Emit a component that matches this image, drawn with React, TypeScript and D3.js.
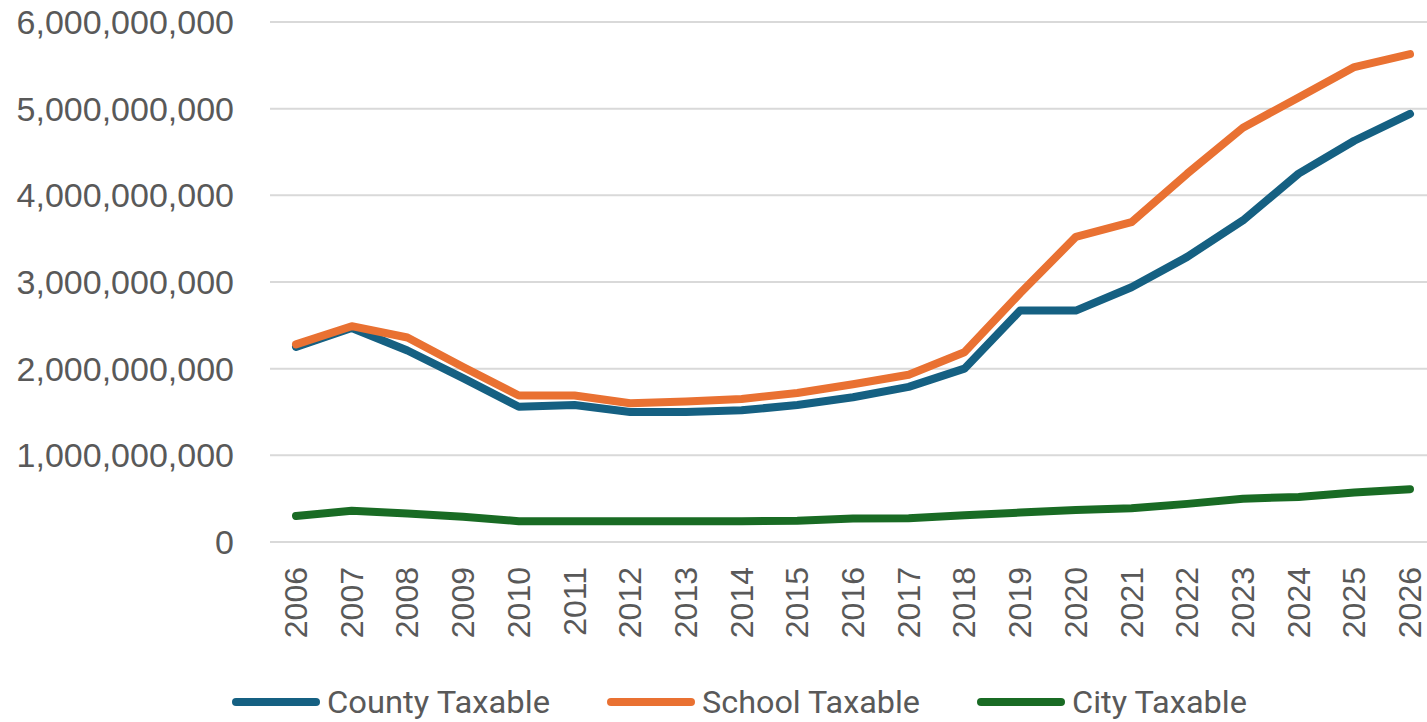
import React from "react";
import * as d3 from "d3";

const years = [
  "2006", "2007", "2008", "2009", "2010", "2011", "2012", "2013", "2014", "2015", "2016",
  "2017", "2018", "2019", "2020", "2021", "2022", "2023", "2024", "2025", "2026",
];

const countyTaxable = [
  2.25e9, 2.47e9, 2.21e9, 1.89e9, 1.56e9, 1.58e9, 1.5e9, 1.5e9, 1.52e9, 1.58e9, 1.67e9,
  1.79e9, 2.0e9, 2.67e9, 2.67e9, 2.94e9, 3.29e9, 3.71e9, 4.25e9, 4.63e9, 4.94e9,
];

const schoolTaxable = [
  2.28e9, 2.49e9, 2.36e9, 2.02e9, 1.69e9, 1.69e9, 1.6e9, 1.62e9, 1.65e9, 1.72e9, 1.82e9,
  1.93e9, 2.19e9, 2.87e9, 3.52e9, 3.69e9, 4.25e9, 4.78e9, 5.13e9, 5.48e9, 5.63e9,
];

const cityTaxable = [
  0.3e9, 0.36e9, 0.33e9, 0.29e9, 0.24e9, 0.24e9, 0.24e9, 0.24e9, 0.24e9, 0.245e9, 0.27e9,
  0.275e9, 0.31e9, 0.34e9, 0.37e9, 0.39e9, 0.44e9, 0.5e9, 0.52e9, 0.57e9, 0.61e9,
];

const yTicks = [0, 1e9, 2e9, 3e9, 4e9, 5e9, 6e9];

const seriesNames = ["County Taxable", "School Taxable", "City Taxable"];
const seriesColors = ["#156082", "#E97132", "#196B24"];

const W = 1427;
const H = 722;

export default function App() {
  const x = d3.scalePoint<string>().domain(years).range([296, 1410]);
  const y = d3.scaleLinear().domain([0, 6e9]).range([542, 22]);
  const fmt = d3.format(",");

  const line = d3
    .line<number>()
    .x((_, i) => x(years[i]) as number)
    .y((d) => y(d));

  const seriesData = [countyTaxable, schoolTaxable, cityTaxable];

  const legendItems = [
    { lx: 232, tx: 327, tl: 223 },
    { lx: 607, tx: 702, tl: 218 },
    { lx: 977, tx: 1072, tl: 175 },
  ];

  const textColor = "#595959";
  const axisFont = "'Liberation Sans', Arial, sans-serif";

  return (
    <svg
      width={W}
      height={H}
      style={{ position: "absolute", left: 0, top: 0, background: "#fff" }}
    >
      <rect x={0} y={0} width={W} height={H} fill="#fff" />
      {yTicks.map((t) => (
        <g key={t}>
          <line x1={270} x2={W} y1={y(t)} y2={y(t)} stroke="#d9d9d9" strokeWidth={2} />
          <text
            x={234}
            y={y(t)}
            textAnchor="end"
            dominantBaseline="central"
            fontFamily={axisFont}
            fontSize={34}
            fill={textColor}
          >
            {fmt(t)}
          </text>
        </g>
      ))}
      {years.map((yr) => (
        <text
          key={yr}
          transform={`translate(${x(yr)},567) rotate(-90)`}
          textAnchor="end"
          dominantBaseline="central"
          fontFamily={axisFont}
          fontSize={32}
          fill={textColor}
        >
          {yr}
        </text>
      ))}
      {seriesData.map((s, i) => (
        <path
          key={seriesNames[i]}
          d={line(s) as string}
          fill="none"
          stroke={seriesColors[i]}
          strokeWidth={8}
          strokeLinecap="round"
          strokeLinejoin="round"
        />
      ))}
      {legendItems.map((it, i) => (
        <g key={seriesNames[i]}>
          <line
            x1={it.lx + 4}
            x2={it.lx + 84}
            y1={702}
            y2={702}
            stroke={seriesColors[i]}
            strokeWidth={8}
            strokeLinecap="round"
          />
          <text
            x={it.tx}
            y={713}
            fontFamily="'Liberation Sans Narrow', 'Roboto', sans-serif"
            fontSize={32}
            fill={textColor}
            textLength={it.tl}
            lengthAdjust="spacingAndGlyphs"
          >
            {seriesNames[i]}
          </text>
        </g>
      ))}
    </svg>
  );
}
